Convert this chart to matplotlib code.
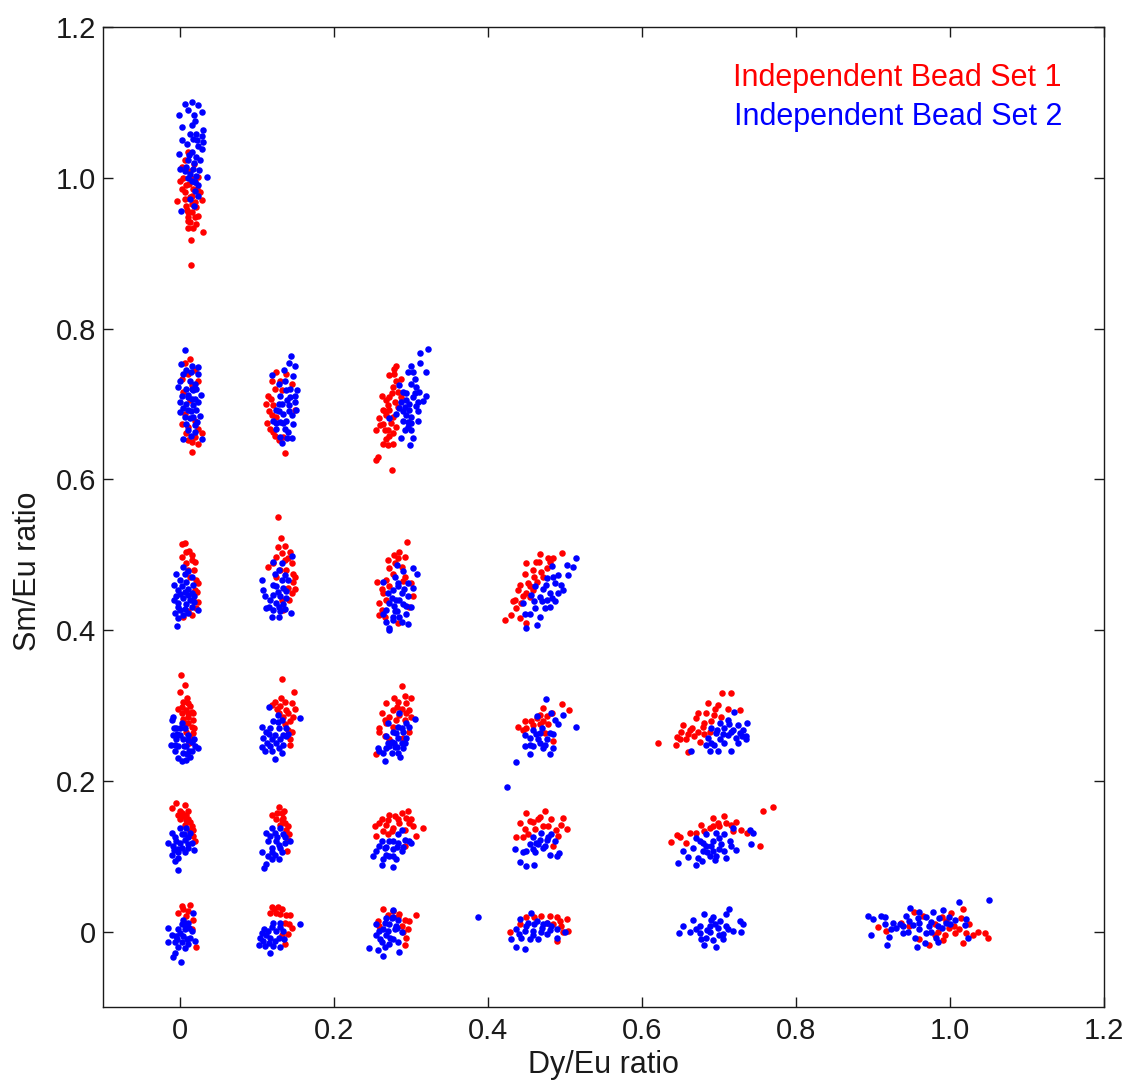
import matplotlib
matplotlib.use("Agg")
import matplotlib.pyplot as plt
import numpy as np

plt.rcParams['font.family'] = ['Liberation Sans', 'DejaVu Sans']

# (Dy/Eu, Sm/Eu) points, grouped by Dy/Eu column
red_c0 = [
    # Sm/Eu ~ 1.0
    (0.011, 1.034), (0.006, 1.023), (0.002, 1.014), (0.013, 1.009), (0.000, 0.996), (0.019, 0.994),
    (0.008, 0.990), (0.017, 0.985), (0.006, 0.981), (0.026, 0.981), (-0.004, 0.969), (0.013, 0.974),
    (0.028, 0.970), (0.008, 0.963), (0.021, 0.961), (0.015, 0.954), (0.011, 0.948), (0.019, 0.948),
    (0.013, 0.941), (0.021, 0.939), (0.011, 0.934), (0.017, 0.934), (0.030, 0.928), (0.014, 0.918),
    (0.014, 0.885), (0.024, 1.001), (0.004, 1.000), (0.016, 0.965), (0.009, 0.957), (0.023, 0.950),
    (0.018, 1.018), (0.010, 0.943), (0.012, 0.992), (0.016, 0.976), (0.007, 0.972), (0.020, 0.968),
    (0.010, 0.955), (0.022, 0.985), (0.003, 0.985), (0.014, 1.000),
    # ~ 0.70
    (0.013, 0.759), (0.006, 0.755), (0.011, 0.740), (0.015, 0.725), (0.004, 0.716), (0.013, 0.705),
    (0.006, 0.687), (0.019, 0.678), (0.011, 0.669), (0.008, 0.661), (0.019, 0.656), (0.029, 0.661),
    (0.023, 0.647), (0.016, 0.636), (0.002, 0.674), (0.024, 0.667), (0.020, 0.745), (0.003, 0.733),
    (0.024, 0.730), (0.010, 0.652), (0.015, 0.649),
    # ~ 0.45
    (0.002, 0.514), (0.006, 0.516), (0.008, 0.504), (0.002, 0.497), (0.015, 0.493), (0.019, 0.491),
    (0.008, 0.489), (0.011, 0.480), (0.021, 0.467), (0.024, 0.462), (0.019, 0.453), (0.017, 0.440),
    (0.021, 0.429), (0.015, 0.420), (0.004, 0.418), (0.013, 0.471), (0.012, 0.505), (0.018, 0.480),
    (0.022, 0.450), (0.023, 0.437), (0.010, 0.425), (0.016, 0.500),
    # ~ 0.27
    (0.001, 0.340), (0.006, 0.327), (0.000, 0.318), (0.004, 0.305), (0.011, 0.303), (-0.002, 0.296),
    (0.008, 0.294), (0.015, 0.292), (0.011, 0.285), (0.017, 0.281), (0.006, 0.277), (0.015, 0.272),
    (0.017, 0.263), (0.008, 0.265), (0.013, 0.257), (0.002, 0.290), (0.013, 0.299), (0.004, 0.282),
    (0.010, 0.290), (0.017, 0.290), (0.010, 0.277), (0.003, 0.298), (0.009, 0.310), (0.018, 0.270),
    (0.012, 0.250),
    # ~ 0.12
    (-0.005, 0.170), (0.006, 0.168), (-0.010, 0.164), (0.002, 0.157), (0.008, 0.155), (0.000, 0.149),
    (0.011, 0.149), (0.006, 0.142), (0.015, 0.140), (0.013, 0.133), (0.017, 0.127), (0.019, 0.120),
    (0.004, 0.153), (0.010, 0.160), (0.000, 0.160), (0.013, 0.145), (0.017, 0.135), (0.008, 0.148),
    (-0.003, 0.155),
    # ~ 0
    (0.002, 0.034), (0.013, 0.035), (-0.002, 0.025), (0.008, 0.021), (0.006, 0.012), (0.021, -0.020),
    (0.015, 0.003), (0.010, 0.028), (0.017, 0.015), (0.004, 0.030),
]
blue_c0 = [
    (0.006, 1.098), (0.015, 1.100), (0.024, 1.097), (0.010, 1.090), (-0.001, 1.083), (0.018, 1.083),
    (0.028, 1.087), (0.002, 1.067), (0.015, 1.070), (0.030, 1.063), (0.013, 1.058), (0.021, 1.058),
    (0.003, 1.050), (0.017, 1.051), (0.030, 1.047), (0.024, 1.042), (0.028, 1.038), (-0.001, 1.032),
    (0.015, 1.034), (0.021, 1.027), (0.010, 1.023), (0.026, 1.023), (0.000, 1.012), (0.008, 1.014),
    (0.017, 1.012), (0.013, 1.005), (0.021, 1.003), (0.035, 1.001), (0.015, 0.996), (0.024, 0.990),
    (0.019, 0.983), (0.013, 0.972), (0.024, 0.976), (0.018, 0.963), (0.001, 0.956), (0.006, 1.009),
    (0.020, 1.075), (0.009, 1.045), (0.022, 1.050), (0.012, 1.030), (0.025, 1.010), (0.018, 1.020),
    (0.010, 1.000), (0.020, 0.995), (0.028, 1.055),
    (0.007, 0.772), (0.001, 0.753), (0.016, 0.751), (0.024, 0.749), (0.008, 0.745), (0.023, 0.740),
    (0.000, 0.731), (0.013, 0.731), (0.019, 0.727), (-0.002, 0.722), (0.008, 0.720), (0.017, 0.718),
    (0.027, 0.712), (0.002, 0.711), (0.011, 0.709), (0.019, 0.707), (0.000, 0.703), (0.008, 0.700),
    (0.017, 0.698), (0.000, 0.689), (0.011, 0.692), (0.021, 0.692), (0.006, 0.683), (0.017, 0.683),
    (0.026, 0.684), (0.008, 0.674), (0.019, 0.672), (0.011, 0.665), (0.019, 0.663), (0.004, 0.654),
    (0.029, 0.654), (0.015, 0.720), (0.013, 0.681), (0.004, 0.740), (0.014, 0.742), (0.021, 0.720),
    (0.004, 0.695), (0.014, 0.690), (0.023, 0.702), (0.010, 0.712), (0.016, 0.706), (0.022, 0.676),
    (0.014, 0.658),
    (0.004, 0.484), (-0.005, 0.475), (0.011, 0.478), (0.015, 0.471), (0.000, 0.467), (0.008, 0.464),
    (-0.008, 0.460), (0.017, 0.460), (-0.002, 0.453), (0.006, 0.451), (0.015, 0.449), (-0.005, 0.445),
    (0.004, 0.442), (0.013, 0.440), (-0.002, 0.436), (0.008, 0.434), (0.015, 0.431), (0.000, 0.427),
    (0.024, 0.427), (-0.006, 0.423), (0.004, 0.420), (0.011, 0.423), (-0.002, 0.416), (-0.004, 0.405),
    (0.007, 0.475), (0.002, 0.458), (0.010, 0.455), (0.018, 0.445), (0.010, 0.446), (-0.003, 0.430),
    (0.006, 0.428), (0.018, 0.437), (-0.008, 0.440), (0.000, 0.448),
    (-0.009, 0.285), (-0.011, 0.281), (0.002, 0.277), (-0.005, 0.270), (0.006, 0.270), (-0.009, 0.261),
    (0.000, 0.261), (0.011, 0.261), (-0.005, 0.255), (0.004, 0.255), (0.015, 0.252), (-0.012, 0.248),
    (0.024, 0.243), (-0.002, 0.246), (0.008, 0.246), (-0.007, 0.239), (0.004, 0.237), (0.015, 0.239),
    (-0.002, 0.230), (0.008, 0.228), (0.002, 0.226), (0.013, 0.232), (0.019, 0.246), (0.000, 0.270),
    (0.010, 0.254), (0.005, 0.246), (-0.006, 0.248), (0.012, 0.240), (-0.004, 0.262), (0.009, 0.235),
    (-0.008, 0.270), (0.018, 0.255),
    (0.000, 0.138), (0.008, 0.138), (-0.011, 0.131), (0.002, 0.129), (0.013, 0.131), (-0.015, 0.118),
    (-0.005, 0.120), (0.006, 0.122), (0.015, 0.118), (-0.009, 0.113), (0.002, 0.111), (0.011, 0.111),
    (0.018, 0.108), (-0.011, 0.102), (-0.002, 0.105), (0.006, 0.105), (-0.007, 0.094), (-0.002, 0.082),
    (-0.002, 0.098), (0.005, 0.130), (-0.006, 0.126), (0.010, 0.125), (0.000, 0.118), (-0.003, 0.110),
    (0.010, 0.116), (-0.008, 0.108),
    (0.017, 0.025), (0.004, 0.016), (0.011, 0.012), (-0.015, 0.005), (-0.002, 0.003), (0.006, 0.003),
    (0.015, 0.001), (-0.005, -0.006), (0.004, -0.006), (0.013, -0.008), (-0.015, -0.014), (-0.007, -0.014),
    (0.002, -0.014), (0.011, -0.017), (0.019, -0.012), (-0.002, -0.021), (-0.007, -0.028), (-0.009, -0.034),
    (0.001, -0.040), (0.002, 0.010), (0.008, 0.008), (0.000, -0.002), (0.009, -0.010), (-0.004, -0.010),
    (0.006, -0.022), (0.012, 0.005), (-0.010, -0.004),
]

red_c1 = [
    (0.125, 0.742), (0.138, 0.740), (0.114, 0.711), (0.118, 0.707), (0.123, 0.720), (0.121, 0.698),
    (0.132, 0.718), (0.119, 0.685), (0.125, 0.683), (0.117, 0.667), (0.121, 0.663), (0.128, 0.652),
    (0.134, 0.656), (0.137, 0.635), (0.145, 0.727), (0.149, 0.692), (0.112, 0.700), (0.116, 0.690),
    (0.130, 0.730), (0.120, 0.730), (0.113, 0.675), (0.124, 0.658),
    (0.127, 0.550), (0.131, 0.522), (0.136, 0.511), (0.143, 0.504), (0.132, 0.502), (0.125, 0.497),
    (0.136, 0.493), (0.121, 0.489), (0.145, 0.489), (0.114, 0.484), (0.138, 0.480), (0.147, 0.475),
    (0.125, 0.471), (0.147, 0.464), (0.140, 0.456), (0.145, 0.449), (0.132, 0.440), (0.134, 0.427),
    (0.140, 0.495), (0.130, 0.480), (0.150, 0.470), (0.142, 0.440), (0.127, 0.510), (0.150, 0.455),
    (0.133, 0.335), (0.148, 0.318), (0.123, 0.305), (0.136, 0.305), (0.145, 0.303), (0.130, 0.299),
    (0.138, 0.294), (0.150, 0.295), (0.119, 0.301), (0.134, 0.285), (0.143, 0.279), (0.140, 0.268),
    (0.143, 0.255), (0.143, 0.248), (0.128, 0.290), (0.140, 0.290), (0.126, 0.295), (0.147, 0.285),
    (0.136, 0.275), (0.146, 0.265), (0.131, 0.310),
    (0.129, 0.166), (0.119, 0.155), (0.132, 0.157), (0.125, 0.149), (0.136, 0.144), (0.130, 0.142),
    (0.138, 0.135), (0.140, 0.122), (0.139, 0.107), (0.134, 0.151), (0.126, 0.158), (0.132, 0.148),
    (0.140, 0.140), (0.135, 0.160), (0.142, 0.130),
    (0.120, 0.033), (0.127, 0.033), (0.117, 0.025), (0.130, 0.023), (0.138, 0.022), (0.143, 0.022),
    (0.136, 0.012), (0.140, -0.003), (0.136, -0.017), (0.125, 0.025), (0.132, 0.030), (0.141, 0.010),
    (0.133, -0.005), (0.145, 0.005), (0.122, 0.030),
]
blue_c1 = [
    (0.144, 0.763), (0.141, 0.754), (0.149, 0.750), (0.120, 0.739), (0.147, 0.737), (0.136, 0.731),
    (0.128, 0.727), (0.152, 0.719), (0.138, 0.718), (0.130, 0.711), (0.143, 0.709), (0.149, 0.703),
    (0.132, 0.700), (0.141, 0.698), (0.125, 0.692), (0.151, 0.692), (0.134, 0.687), (0.145, 0.685),
    (0.121, 0.678), (0.130, 0.676), (0.138, 0.678), (0.147, 0.674), (0.125, 0.667), (0.136, 0.667),
    (0.130, 0.656), (0.146, 0.655), (0.132, 0.648), (0.140, 0.663), (0.128, 0.700), (0.139, 0.705),
    (0.143, 0.720), (0.135, 0.745), (0.128, 0.690), (0.142, 0.690), (0.125, 0.675), (0.134, 0.675),
    (0.139, 0.655), (0.150, 0.710),
    (0.145, 0.498), (0.121, 0.491), (0.132, 0.489), (0.128, 0.480), (0.136, 0.473), (0.107, 0.467),
    (0.132, 0.467), (0.140, 0.467), (0.108, 0.453), (0.125, 0.458), (0.134, 0.456), (0.121, 0.447),
    (0.130, 0.445), (0.138, 0.442), (0.117, 0.440), (0.125, 0.436), (0.134, 0.434), (0.112, 0.429),
    (0.121, 0.427), (0.130, 0.425), (0.119, 0.418), (0.144, 0.423), (0.128, 0.418), (0.127, 0.450),
    (0.138, 0.452), (0.121, 0.460), (0.116, 0.430), (0.128, 0.430), (0.124, 0.475), (0.137, 0.428),
    (0.111, 0.445),
    (0.115, 0.298), (0.127, 0.288), (0.156, 0.283), (0.121, 0.279), (0.132, 0.281), (0.106, 0.272),
    (0.117, 0.270), (0.128, 0.270), (0.138, 0.270), (0.112, 0.265), (0.123, 0.261), (0.134, 0.261),
    (0.108, 0.257), (0.119, 0.255), (0.130, 0.255), (0.138, 0.259), (0.106, 0.245), (0.117, 0.246),
    (0.128, 0.243), (0.110, 0.239), (0.123, 0.229), (0.132, 0.237), (0.125, 0.250), (0.115, 0.262),
    (0.134, 0.248), (0.120, 0.240), (0.140, 0.262), (0.113, 0.250), (0.127, 0.278),
    (0.119, 0.138), (0.130, 0.138), (0.112, 0.131), (0.123, 0.131), (0.134, 0.129), (0.143, 0.120),
    (0.114, 0.120), (0.125, 0.120), (0.136, 0.118), (0.119, 0.111), (0.130, 0.111), (0.106, 0.105),
    (0.123, 0.102), (0.114, 0.100), (0.119, 0.096), (0.112, 0.090), (0.109, 0.085), (0.132, 0.105),
    (0.126, 0.126), (0.117, 0.127), (0.128, 0.115), (0.137, 0.125), (0.120, 0.105), (0.128, 0.097),
    (0.156, 0.010), (0.109, 0.004), (0.121, 0.012), (0.130, 0.012), (0.114, 0.001), (0.125, 0.001),
    (0.134, 0.001), (0.104, -0.008), (0.117, -0.008), (0.128, -0.008), (0.102, -0.018), (0.110, -0.019),
    (0.121, -0.019), (0.130, -0.021), (0.117, -0.028), (0.108, -0.012), (0.120, 0.006), (0.112, -0.004),
    (0.124, -0.012), (0.135, -0.010), (0.115, -0.015), (0.130, 0.006), (0.106, -0.002),
]

red_c2 = [
    (0.280, 0.751), (0.278, 0.747), (0.271, 0.738), (0.287, 0.733), (0.280, 0.731), (0.277, 0.722),
    (0.283, 0.716), (0.262, 0.710), (0.272, 0.709), (0.268, 0.705), (0.279, 0.703), (0.264, 0.692),
    (0.272, 0.692), (0.259, 0.681), (0.268, 0.685), (0.277, 0.683), (0.281, 0.669), (0.264, 0.674),
    (0.255, 0.665), (0.266, 0.665), (0.272, 0.658), (0.277, 0.661), (0.268, 0.654), (0.264, 0.647),
    (0.270, 0.645), (0.277, 0.647), (0.257, 0.630), (0.254, 0.626), (0.275, 0.613), (0.283, 0.696),
    (0.287, 0.709), (0.270, 0.698), (0.275, 0.715), (0.266, 0.690), (0.274, 0.675), (0.260, 0.672),
    (0.270, 0.666), (0.278, 0.740),
    (0.295, 0.517), (0.285, 0.504), (0.292, 0.497), (0.270, 0.493), (0.279, 0.489), (0.272, 0.482),
    (0.288, 0.484), (0.256, 0.464), (0.268, 0.467), (0.264, 0.449), (0.259, 0.436), (0.266, 0.418),
    (0.300, 0.462), (0.298, 0.431), (0.277, 0.475), (0.262, 0.427), (0.292, 0.471), (0.272, 0.458),
    (0.268, 0.440), (0.303, 0.445), (0.283, 0.409), (0.283, 0.495), (0.278, 0.500), (0.262, 0.455),
    (0.290, 0.465), (0.258, 0.420),
    (0.288, 0.326), (0.292, 0.313), (0.300, 0.310), (0.283, 0.305), (0.268, 0.303), (0.294, 0.303),
    (0.277, 0.294), (0.288, 0.296), (0.298, 0.294), (0.272, 0.285), (0.266, 0.281), (0.281, 0.281),
    (0.292, 0.281), (0.259, 0.270), (0.298, 0.265), (0.259, 0.265), (0.268, 0.277), (0.255, 0.235),
    (0.277, 0.272), (0.285, 0.288), (0.272, 0.255), (0.266, 0.259), (0.290, 0.257), (0.282, 0.298),
    (0.293, 0.290), (0.278, 0.310), (0.262, 0.290), (0.300, 0.285),
    (0.296, 0.160), (0.288, 0.158), (0.272, 0.155), (0.279, 0.153), (0.294, 0.151), (0.259, 0.144),
    (0.253, 0.140), (0.268, 0.142), (0.285, 0.144), (0.298, 0.144), (0.316, 0.138), (0.303, 0.140),
    (0.264, 0.133), (0.275, 0.133), (0.255, 0.127), (0.307, 0.127), (0.292, 0.113), (0.277, 0.138),
    (0.270, 0.129), (0.283, 0.150), (0.262, 0.150), (0.292, 0.135), (0.300, 0.150), (0.270, 0.148),
    (0.264, 0.030), (0.277, 0.027), (0.307, 0.022), (0.285, 0.023), (0.292, 0.016), (0.296, 0.003),
    (0.294, -0.008), (0.292, -0.018), (0.257, 0.014), (0.288, 0.008), (0.259, 0.008), (0.290, 0.000),
    (0.298, 0.014), (0.283, 0.020), (0.270, 0.022),
]
blue_c2 = [
    (0.322, 0.773), (0.312, 0.767), (0.312, 0.755), (0.300, 0.751), (0.319, 0.743), (0.296, 0.742),
    (0.303, 0.742), (0.305, 0.733), (0.300, 0.727), (0.307, 0.722), (0.285, 0.725), (0.311, 0.716),
    (0.319, 0.711), (0.294, 0.714), (0.290, 0.716), (0.316, 0.704), (0.309, 0.703), (0.303, 0.709),
    (0.287, 0.703), (0.292, 0.696), (0.298, 0.692), (0.309, 0.691), (0.285, 0.694), (0.294, 0.685),
    (0.300, 0.683), (0.290, 0.678), (0.309, 0.678), (0.272, 0.682), (0.296, 0.670), (0.292, 0.665),
    (0.300, 0.665), (0.287, 0.655), (0.303, 0.655), (0.299, 0.646), (0.281, 0.687), (0.296, 0.676),
    (0.298, 0.700), (0.305, 0.715), (0.293, 0.705), (0.306, 0.697), (0.290, 0.690), (0.300, 0.675),
    (0.282, 0.487), (0.302, 0.483), (0.308, 0.475), (0.290, 0.478), (0.279, 0.471), (0.264, 0.464),
    (0.283, 0.462), (0.296, 0.462), (0.303, 0.456), (0.277, 0.453), (0.288, 0.449), (0.270, 0.449),
    (0.296, 0.445), (0.281, 0.440), (0.272, 0.436), (0.290, 0.434), (0.300, 0.431), (0.268, 0.427),
    (0.279, 0.425), (0.264, 0.422), (0.294, 0.422), (0.285, 0.418), (0.268, 0.411), (0.277, 0.414),
    (0.288, 0.411), (0.296, 0.408), (0.272, 0.403), (0.283, 0.458), (0.275, 0.442), (0.272, 0.400),
    (0.285, 0.440), (0.278, 0.432), (0.291, 0.455), (0.282, 0.425), (0.294, 0.432), (0.276, 0.418),
    (0.285, 0.290), (0.305, 0.282), (0.270, 0.277), (0.294, 0.277), (0.283, 0.272), (0.298, 0.272),
    (0.277, 0.265), (0.290, 0.265), (0.268, 0.259), (0.283, 0.257), (0.294, 0.257), (0.275, 0.252),
    (0.288, 0.250), (0.257, 0.243), (0.268, 0.243), (0.279, 0.245), (0.290, 0.243), (0.264, 0.237),
    (0.275, 0.237), (0.283, 0.237), (0.266, 0.226), (0.259, 0.239), (0.272, 0.246), (0.281, 0.263),
    (0.288, 0.270), (0.278, 0.250), (0.292, 0.250), (0.270, 0.250), (0.282, 0.245), (0.286, 0.232),
    (0.288, 0.135), (0.283, 0.129), (0.298, 0.120), (0.262, 0.120), (0.272, 0.120), (0.283, 0.118),
    (0.266, 0.111), (0.277, 0.109), (0.288, 0.107), (0.255, 0.107), (0.251, 0.100), (0.268, 0.102),
    (0.281, 0.096), (0.262, 0.089), (0.277, 0.086), (0.272, 0.100), (0.292, 0.122), (0.300, 0.118),
    (0.264, 0.096), (0.282, 0.112), (0.276, 0.120), (0.268, 0.112), (0.290, 0.112), (0.258, 0.114),
    (0.276, 0.100),
    (0.277, 0.029), (0.268, 0.018), (0.283, 0.016), (0.255, 0.010), (0.272, 0.010), (0.264, 0.003),
    (0.279, 0.003), (0.288, -0.001), (0.255, -0.005), (0.268, -0.005), (0.277, -0.010), (0.262, -0.014),
    (0.272, -0.017), (0.283, -0.014), (0.246, -0.022), (0.257, -0.025), (0.263, -0.032), (0.285, -0.027),
    (0.270, 0.001), (0.259, 0.001), (0.275, 0.018), (0.266, 0.012), (0.280, 0.008), (0.273, -0.008),
    (0.260, -0.010), (0.282, 0.005), (0.266, -0.020), (0.276, 0.020),
]

red_c3 = [
    (0.468, 0.501), (0.496, 0.502), (0.450, 0.489), (0.466, 0.491), (0.485, 0.495), (0.480, 0.491),
    (0.458, 0.480), (0.448, 0.475), (0.469, 0.477), (0.476, 0.482), (0.441, 0.460), (0.452, 0.462),
    (0.463, 0.464), (0.439, 0.453), (0.450, 0.449), (0.458, 0.453), (0.432, 0.438), (0.443, 0.436),
    (0.437, 0.429), (0.441, 0.416), (0.422, 0.413), (0.450, 0.409), (0.454, 0.444), (0.471, 0.471),
    (0.460, 0.470), (0.445, 0.445), (0.435, 0.440), (0.455, 0.458), (0.478, 0.495), (0.462, 0.490),
    (0.430, 0.420),
    (0.496, 0.302), (0.505, 0.294), (0.471, 0.297), (0.467, 0.288), (0.476, 0.286), (0.439, 0.272),
    (0.448, 0.279), (0.456, 0.279), (0.467, 0.275), (0.478, 0.275), (0.450, 0.270), (0.474, 0.264),
    (0.484, 0.253), (0.463, 0.283), (0.472, 0.280), (0.458, 0.274), (0.483, 0.290), (0.445, 0.268),
    (0.450, 0.158), (0.474, 0.160), (0.441, 0.144), (0.454, 0.147), (0.465, 0.149), (0.482, 0.149),
    (0.498, 0.151), (0.448, 0.136), (0.461, 0.136), (0.495, 0.142), (0.502, 0.136), (0.437, 0.125),
    (0.445, 0.125), (0.491, 0.127), (0.471, 0.140), (0.484, 0.114), (0.458, 0.145), (0.478, 0.140),
    (0.488, 0.135), (0.452, 0.130), (0.468, 0.152),
    (0.428, -0.001), (0.450, 0.019), (0.469, 0.021), (0.480, 0.021), (0.489, 0.019), (0.502, 0.017),
    (0.495, 0.008), (0.504, 0.001), (0.489, -0.012), (0.441, 0.010), (0.476, 0.012), (0.493, 0.014),
    (0.485, 0.010), (0.460, 0.020), (0.497, 0.000),
]
blue_c3 = [
    (0.514, 0.496), (0.502, 0.486), (0.510, 0.484), (0.483, 0.485), (0.476, 0.469), (0.491, 0.473),
    (0.504, 0.473), (0.487, 0.462), (0.497, 0.453), (0.461, 0.458), (0.471, 0.455), (0.480, 0.449),
    (0.491, 0.449), (0.456, 0.447), (0.467, 0.444), (0.476, 0.440), (0.487, 0.438), (0.445, 0.436),
    (0.461, 0.429), (0.474, 0.429), (0.448, 0.422), (0.454, 0.422), (0.467, 0.418), (0.463, 0.407),
    (0.450, 0.403), (0.480, 0.431), (0.470, 0.438), (0.483, 0.442), (0.495, 0.460), (0.485, 0.470),
    (0.475, 0.460), (0.460, 0.438),
    (0.475, 0.308), (0.463, 0.286), (0.482, 0.290), (0.497, 0.288), (0.487, 0.281), (0.491, 0.275),
    (0.514, 0.272), (0.458, 0.268), (0.448, 0.261), (0.467, 0.264), (0.480, 0.264), (0.454, 0.257),
    (0.465, 0.255), (0.476, 0.255), (0.448, 0.246), (0.458, 0.246), (0.471, 0.244), (0.484, 0.244),
    (0.454, 0.235), (0.480, 0.236), (0.436, 0.225), (0.425, 0.192), (0.470, 0.270), (0.462, 0.262),
    (0.474, 0.248), (0.455, 0.248), (0.485, 0.262), (0.468, 0.250),
    (0.469, 0.131), (0.482, 0.129), (0.458, 0.125), (0.476, 0.122), (0.487, 0.120), (0.454, 0.116),
    (0.465, 0.116), (0.435, 0.110), (0.450, 0.107), (0.461, 0.105), (0.480, 0.101), (0.492, 0.104),
    (0.489, 0.100), (0.441, 0.093), (0.450, 0.087), (0.460, 0.089), (0.471, 0.111), (0.462, 0.118),
    (0.474, 0.114), (0.458, 0.110), (0.478, 0.126), (0.468, 0.122), (0.445, 0.105),
    (0.456, 0.025), (0.441, 0.017), (0.452, 0.012), (0.463, 0.014), (0.471, 0.010), (0.482, 0.008),
    (0.489, 0.003), (0.437, 0.003), (0.448, 0.001), (0.458, 0.001), (0.469, -0.001), (0.500, 0.000),
    (0.430, -0.010), (0.443, -0.008), (0.454, -0.010), (0.465, -0.010), (0.437, -0.021), (0.448, -0.023),
    (0.489, -0.008), (0.476, -0.003), (0.387, 0.020), (0.460, 0.010), (0.470, 0.005), (0.450, 0.007),
    (0.477, 0.012), (0.458, -0.005), (0.440, -0.003), (0.480, 0.002),
]

red_c4 = [
    (0.704, 0.316), (0.715, 0.316), (0.686, 0.303), (0.699, 0.301), (0.712, 0.296), (0.727, 0.294),
    (0.673, 0.290), (0.683, 0.290), (0.694, 0.288), (0.703, 0.285), (0.670, 0.283), (0.681, 0.277),
    (0.653, 0.274), (0.662, 0.268), (0.673, 0.265), (0.651, 0.265), (0.688, 0.265), (0.668, 0.259),
    (0.649, 0.255), (0.657, 0.255), (0.675, 0.252), (0.644, 0.248), (0.660, 0.238), (0.621, 0.250),
    (0.679, 0.272), (0.665, 0.270), (0.690, 0.280), (0.660, 0.262), (0.645, 0.258), (0.695, 0.295),
    (0.680, 0.262),
    (0.770, 0.165), (0.757, 0.160), (0.692, 0.151), (0.707, 0.154), (0.699, 0.144), (0.677, 0.142),
    (0.709, 0.144), (0.722, 0.146), (0.662, 0.131), (0.670, 0.131), (0.645, 0.128), (0.729, 0.135),
    (0.737, 0.131), (0.638, 0.119), (0.657, 0.118), (0.753, 0.114), (0.688, 0.138), (0.718, 0.133),
    (0.700, 0.140), (0.715, 0.142), (0.680, 0.134), (0.692, 0.140), (0.650, 0.125),
]
blue_c4 = [
    (0.720, 0.291), (0.712, 0.281), (0.737, 0.277), (0.701, 0.277), (0.725, 0.274), (0.690, 0.270),
    (0.707, 0.270), (0.718, 0.268), (0.731, 0.268), (0.696, 0.263), (0.712, 0.261), (0.735, 0.260),
    (0.686, 0.257), (0.701, 0.255), (0.722, 0.257), (0.735, 0.255), (0.683, 0.248), (0.694, 0.248),
    (0.707, 0.250), (0.688, 0.239), (0.716, 0.239), (0.664, 0.239), (0.727, 0.263), (0.699, 0.239),
    (0.705, 0.262), (0.715, 0.265), (0.698, 0.268), (0.690, 0.250), (0.725, 0.250), (0.713, 0.275),
    (0.730, 0.260),
    (0.718, 0.138), (0.740, 0.135), (0.744, 0.131), (0.670, 0.124), (0.683, 0.129), (0.696, 0.131),
    (0.707, 0.129), (0.714, 0.120), (0.679, 0.118), (0.692, 0.120), (0.703, 0.116), (0.742, 0.116),
    (0.653, 0.107), (0.666, 0.111), (0.679, 0.107), (0.692, 0.107), (0.707, 0.107), (0.722, 0.108),
    (0.660, 0.099), (0.673, 0.098), (0.688, 0.100), (0.696, 0.100), (0.709, 0.098), (0.647, 0.091),
    (0.670, 0.089), (0.678, 0.094), (0.683, 0.113), (0.700, 0.110), (0.690, 0.113), (0.700, 0.124),
    (0.715, 0.113), (0.685, 0.105), (0.675, 0.120), (0.695, 0.095),
    (0.713, 0.030), (0.681, 0.023), (0.709, 0.023), (0.666, 0.016), (0.690, 0.016), (0.701, 0.014),
    (0.727, 0.014), (0.653, 0.008), (0.675, 0.008), (0.688, 0.008), (0.699, 0.005), (0.709, 0.008),
    (0.731, 0.010), (0.648, -0.002), (0.662, -0.001), (0.675, -0.002), (0.688, -0.001), (0.705, -0.003),
    (0.718, 0.001), (0.729, 0.000), (0.677, -0.010), (0.692, -0.011), (0.705, -0.010), (0.681, -0.018),
    (0.696, -0.020), (0.695, 0.010), (0.685, 0.002), (0.700, -0.005), (0.712, 0.004), (0.670, 0.003),
    (0.692, 0.020), (0.683, -0.008),
]

red_c5 = [
    (1.017, 0.030), (1.001, 0.025), (0.953, 0.026), (0.965, 0.021), (0.907, 0.006), (0.917, 0.001),
    (0.936, 0.012), (0.947, 0.007), (0.999, 0.005), (1.012, 0.003), (1.021, -0.002), (0.993, -0.004),
    (1.006, -0.002), (0.991, -0.011), (0.980, -0.005), (0.973, -0.018), (1.017, -0.015), (1.036, 0.000),
    (1.045, -0.002), (1.049, -0.008), (1.014, 0.018), (0.995, 0.014), (0.980, 0.010), (0.990, 0.020),
    (1.005, 0.008), (0.960, -0.010), (1.025, 0.010), (0.985, 0.000), (1.030, -0.005),
]
blue_c5 = [
    (1.051, 0.042), (1.012, 0.039), (0.893, 0.021), (0.900, 0.017), (0.910, 0.021), (0.916, 0.020),
    (0.948, 0.031), (0.960, 0.026), (0.978, 0.026), (0.991, 0.029), (0.926, 0.012), (0.943, 0.021),
    (0.969, 0.020), (0.986, 0.018), (0.999, 0.020), (0.930, 0.005), (0.939, 0.007), (0.952, 0.009),
    (0.960, 0.003), (0.973, 0.007), (0.984, 0.007), (0.995, 0.012), (1.006, 0.016), (1.021, 0.017),
    (1.019, 0.009), (0.923, 0.003), (0.939, -0.002), (0.954, -0.008), (0.969, -0.002), (0.982, -0.008),
    (0.921, -0.007), (0.897, -0.005), (0.918, -0.018), (0.957, -0.021), (0.967, -0.015), (0.985, -0.014),
    (1.023, -0.008), (0.947, 0.014), (0.935, 0.010), (0.960, 0.012), (0.975, 0.013), (0.990, 0.005),
    (0.945, 0.000), (0.975, 0.000), (0.958, 0.018), (1.000, 0.010), (0.915, 0.010),
]

ticks = [0, 0.2, 0.4, 0.6, 0.8, 1.0, 1.2]
tick_labels = ['0', '0.2', '0.4', '0.6', '0.8', '1.0', '1.2']

set1 = np.array(red_c0 + red_c1 + red_c2 + red_c3 + red_c4 + red_c5)
set2 = np.array(blue_c0 + blue_c1 + blue_c2 + blue_c3 + blue_c4 + blue_c5)

fig = plt.figure(figsize=(11.33, 10.82), dpi=100)
ax = fig.add_axes([0.0909, 0.0693, 0.8835, 0.9057])

ax.scatter(set1[:, 0], set1[:, 1], s=22, c='#ff0000', linewidths=0)
ax.scatter(set2[:, 0], set2[:, 1], s=22, c='#0000ff', linewidths=0)

ax.set_xlim(-0.1, 1.2)
ax.set_ylim(-0.1, 1.2)
ax.set_xticks(ticks)
ax.set_xticklabels(tick_labels)
ax.set_yticks(ticks)
ax.set_yticklabels(tick_labels)
ax.tick_params(direction='in', top=True, right=True, length=7, width=1, labelsize=21, colors='#1a1a1a')
ax.tick_params(axis='x', pad=7)
ax.tick_params(axis='y', pad=5)
for sp in ax.spines.values():
    sp.set_color('#1a1a1a')
    sp.set_linewidth(1)

ax.set_xlabel('Dy/Eu ratio', fontsize=22, color='#1a1a1a')
ax.set_ylabel('Sm/Eu ratio', fontsize=22, color='#1a1a1a')
ax.xaxis.set_label_coords(0.5, -0.044)
ax.yaxis.set_label_coords(-0.060, 0.445)

ax.text(0.958, 0.940, 'Independent Bead Set 1', color='#ff0000', fontsize=22,
        ha='right', va='baseline', transform=ax.transAxes)
ax.text(0.958, 0.900, 'Independent Bead Set 2', color='#0000ff', fontsize=22,
        ha='right', va='baseline', transform=ax.transAxes)

fig.savefig('out.png', dpi=100)
